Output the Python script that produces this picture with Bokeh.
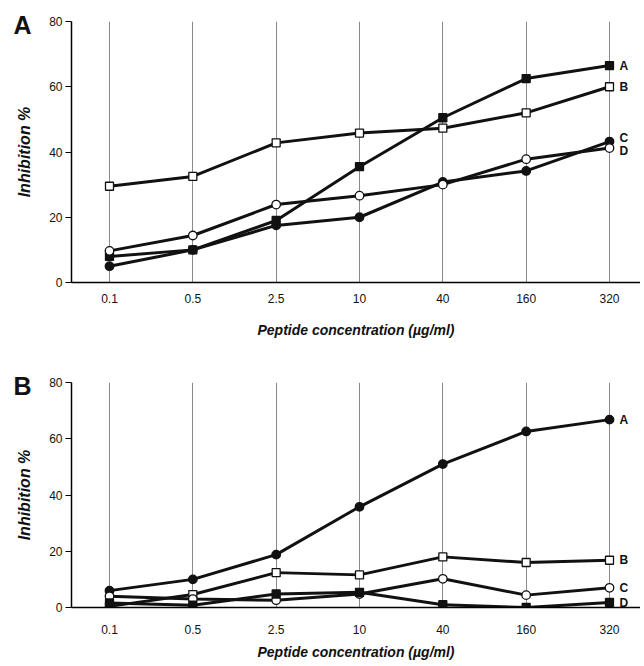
from bokeh.plotting import figure
from bokeh.layouts import column
from bokeh.models import Range1d, FixedTicker, Label, Title
from bokeh.embed import file_html
from bokeh.resources import INLINE

# ---------------- data ----------------
concentrations = ["0.1", "0.5", "2.5", "10", "40", "160", "320"]
y_ticks = [0, 20, 40, 60, 80]

# Panel A
a_series_A = [8, 10, 19, 35.5, 50.5, 62.5, 66.5]
a_series_B = [29.5, 32.5, 42.8, 45.8, 47.3, 52, 60]
a_series_C = [5, 10, 17.5, 20, 30.8, 34.2, 43.2]
a_series_D = [9.7, 14.4, 23.9, 26.6, 30, 37.8, 41.2]

# Panel B
b_series_A = [6, 10, 18.8, 35.8, 51, 62.6, 66.8]
b_series_B = [0.4, 4.6, 12.4, 11.6, 18, 16, 16.8]
b_series_C = [4, 3, 2.6, 4.8, 10.2, 4.4, 7]
b_series_D = [1.6, 0.8, 4.8, 5.4, 1, 0, 1.8]

series_names = ["A", "B", "C", "D"]

FONT = "Liberation Sans"
x_idx = list(range(len(concentrations)))


def make_panel(letter, series, markers, fills, label_dy, height, top, bottom,
               tick_standoff, title_standoff, letter_standoff):
    p = figure(width=640, height=height, output_backend="svg", toolbar_location=None,
               x_range=Range1d(-0.456, 6.372), y_range=Range1d(0, 80),
               min_border_left=71, min_border_right=0,
               min_border_top=top, min_border_bottom=bottom)
    p.outline_line_color = None
    p.background_fill_color = "white"
    p.border_fill_color = "white"

    # axes
    p.xaxis.ticker = FixedTicker(ticks=x_idx)
    p.xaxis.major_label_overrides = {i: c for i, c in zip(x_idx, concentrations)}
    p.xaxis.major_tick_out = 0
    p.xaxis.major_tick_in = 0
    p.xaxis.minor_tick_line_color = None
    p.xaxis.major_label_standoff = tick_standoff
    p.xaxis.axis_label = "Peptide concentration (\u00b5g/ml)"
    p.xaxis.axis_label_standoff = title_standoff
    p.yaxis.ticker = FixedTicker(ticks=y_ticks)
    p.yaxis.major_tick_out = 6
    p.yaxis.major_tick_in = 0
    p.yaxis.minor_tick_line_color = None
    p.yaxis.major_label_standoff = 3
    p.yaxis.axis_label = "Inhibition %"
    p.yaxis.axis_label_standoff = 13
    for ax in (p.xaxis, p.yaxis):
        ax.axis_line_width = 1.5
        ax.axis_line_color = "black"
        ax.major_tick_line_color = "black"
        ax.major_tick_line_width = 1.2
        ax.major_label_text_font = FONT
        ax.major_label_text_font_size = "12px"
        ax.major_label_text_color = "#111111"
        ax.axis_label_text_font = FONT
        ax.axis_label_text_font_style = "bold italic"
        ax.axis_label_text_color = "#111111"
    p.xaxis.axis_label_text_font_size = "14px"
    p.yaxis.axis_label_text_font_size = "16px"

    # grids
    p.ygrid.grid_line_color = None
    p.xgrid.ticker = FixedTicker(ticks=x_idx)
    p.xgrid.grid_line_color = "#8a8a8a"
    p.xgrid.grid_line_width = 1

    # series
    for vals in series:
        p.line(x_idx, vals, line_color="#111111", line_width=3)
    for vals, mk, fill in zip(series, markers, fills):
        p.scatter(x_idx, vals, marker=mk, size=8.5 if mk == "circle" else 8,
                  line_color="#111111", line_width=1.3,
                  fill_color="#111111" if fill else "white")

    # end labels
    for name, vals, dy in zip(series_names, series, label_dy):
        p.add_layout(Label(x=x_idx[-1], y=vals[-1], text=name, x_offset=10, y_offset=dy,
                           text_font=FONT, text_font_style="bold", text_font_size="12px",
                           text_baseline="middle", text_align="left", text_color="#111111"))

    # panel letter as a title (side-panel annotations are not clipped to the frame)
    try:
        t = Title(text=letter, align="left", offset=-58, standoff=letter_standoff,
                  vertical_align="bottom", text_font=FONT, text_font_style="bold",
                  text_font_size="25px", text_color="#111111")
    except Exception:
        t = Title(text=letter, align="left", offset=-58, standoff=0,
                  vertical_align="bottom", text_font=FONT, text_font_style="bold",
                  text_font_size="25px", text_color="#111111")
    p.add_layout(t, "above")
    return p


pA = make_panel("A", [a_series_A, a_series_B, a_series_C, a_series_D],
                ["square", "square", "circle", "circle"], [True, False, True, False],
                [0, 0, 4, -3], height=340, top=21, bottom=58,
                tick_standoff=11, title_standoff=16, letter_standoff=-34)
pB = make_panel("B", [b_series_A, b_series_B, b_series_C, b_series_D],
                ["circle", "square", "circle", "square"], [True, False, False, True],
                [0, 0, 0, -1], height=322, top=42, bottom=53,
                tick_standoff=17, title_standoff=7, letter_standoff=-34)

layout = column(pA, pB, spacing=0)
open("out.html", "w").write(file_html(layout, INLINE))
